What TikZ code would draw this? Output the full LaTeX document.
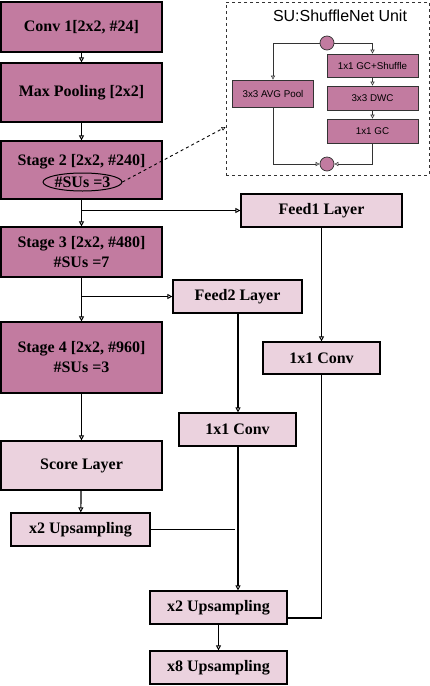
\documentclass[tikz,border=0pt]{standalone}
\usepackage{fontspec}
\setmainfont{Liberation Serif}
\newfontfamily\arialf{Liberation Sans}
\usetikzlibrary{arrows.meta,shapes.geometric,calc}
\definecolor{darkfill}{HTML}{C27BA0}
\definecolor{lightfill}{HTML}{EBD2DE}
\begin{document}
\begin{tikzpicture}[x=1pt,y=-1pt,
  base/.style={draw=black,line width=1.2pt,inner sep=0pt,font=\fontsize{16}{20}\selectfont\bfseries,align=center},
  darkbox/.style={base,fill=darkfill},
  lightbox/.style={base,fill=lightfill},
  subox/.style={draw=black!80,line width=0.7pt,fill=darkfill,inner sep=0pt,font=\arialf\fontsize{9.8}{11}\selectfont},
  sucirc/.style={circle,draw=black!80,line width=0.7pt,fill=darkfill,minimum size=14pt,inner sep=0pt},
  arr/.style={line width=1.2pt,-{Triangle[open,length=5pt,width=5pt,line width=0.9pt]}},
  ln/.style={line width=1.2pt},
  sarr/.style={line width=0.7pt,draw=black!80,-{Triangle[open,length=4pt,width=4pt,line width=0.6pt]}}
]
\useasboundingbox[fill=white] (0,0) rectangle (430,686);

% main column
\node[darkbox,minimum width=161pt,minimum height=50pt] (conv1) at (81.5,27) {Conv 1[2x2, \#24]};
\node[darkbox,minimum width=161pt,minimum height=59pt] (pool) at (81.5,92.5) {Max Pooling [2x2]};
\node[darkbox,minimum width=161pt,minimum height=58pt] (stage2) at (81.5,170) {};
\node[font=\fontsize{16}{20}\selectfont\bfseries,inner sep=0pt] (s2title) at (81.5,162) {Stage 2 [2x2, \#240]};
\node[ellipse,draw=black,line width=1pt,minimum width=76pt,minimum height=18pt,inner sep=0pt,font=\fontsize{16}{20}\selectfont\bfseries] (s2su) at (82.5,182) {\#SUs =3};
\node[darkbox,minimum width=161pt,minimum height=50pt] (stage3) at (81.5,252) {Stage 3 [2x2, \#480]\\\#SUs =7};
\node[darkbox,minimum width=161pt,minimum height=71pt] (stage4) at (81.5,357.5) {Stage 4 [2x2, \#960]\\\#SUs =3};
\node[lightbox,minimum width=161pt,minimum height=49pt] (score) at (81.5,465.5) {Score Layer};
\node[lightbox,minimum width=139pt,minimum height=33pt] (up2a) at (80.5,529.5) {x2 Upsampling};

% right branches
\node[lightbox,minimum width=161pt,minimum height=33pt] (feed1) at (321.5,210.5) {Feed1 Layer};
\node[lightbox,minimum width=129pt,minimum height=33pt] (feed2) at (237.5,296.5) {Feed2 Layer};
\node[lightbox,minimum width=117pt,minimum height=32pt] (convA) at (321.5,358) {1x1 Conv};
\node[lightbox,minimum width=117pt,minimum height=33pt] (convB) at (237.5,429.5) {1x1 Conv};
\node[lightbox,minimum width=137pt,minimum height=33pt] (up2b) at (218.5,607.5) {x2 Upsampling};
\node[lightbox,minimum width=137pt,minimum height=33pt] (up8) at (218.5,667.5) {x8 Upsampling};

\coordinate (b1) at (81.5,210.5);
\coordinate (b2) at (81.5,296.5);
\coordinate (j1) at (235,529.5);
\coordinate (j2) at (321.5,618);

\draw[arr] (conv1) -- (pool);
\draw[arr] (pool) -- (stage2);
\draw[arr] (stage2) -- (stage3);
\draw[arr] (b1) -- (feed1);
\draw[arr] (stage3) -- (stage4);
\draw[arr] (b2) -- (feed2);
\draw[arr] (feed1) -- (convA);
\draw[arr] ([xshift=0.5pt]feed2.south) -- ([xshift=0.5pt]convB.north);
\draw[arr] (stage4) -- (score);
\draw[arr] (score) -- (up2a);
\draw[ln] (up2a) -- (j1);
\draw[arr] ([xshift=0.5pt]convB.south) -- ([xshift=0.5pt]convB.south |- up2b.north);
\draw[ln] (convA) -- (j2) -- (j2 -| up2b.east);
\draw[arr] (up2b) -- (up8);

% ShuffleNet unit inset
\node[draw=black!80,dashed,line width=0.9pt,minimum width=203pt,minimum height=173pt,inner sep=0pt] (su) at (327.5,88.5) {};
\node[font=\arialf\fontsize{16}{19}\selectfont,inner sep=0pt] (sutitle) at (340,16) {SU:ShuffleNet Unit};
\node[sucirc] (c1) at (327,43) {};
\node[sucirc] (c2) at (327,164) {};
\node[subox,minimum width=91pt,minimum height=23pt] (gcs) at (372.5,65.5) {1x1 GC+Shuffle};
\node[subox,minimum width=91pt,minimum height=24pt] (dwc) at (372.5,98) {3x3 DWC};
\node[subox,minimum width=91pt,minimum height=24pt] (gc) at (372.5,131) {1x1 GC};
\node[subox,minimum width=81pt,minimum height=27pt] (avg) at (273,93.5) {3x3 AVG Pool};

\draw[sarr] (c1.west) -| (avg.north);
\draw[sarr] (c1.east) -| (gcs.north);
\draw[sarr] (gcs) -- (dwc);
\draw[sarr] (dwc) -- (gc);
\draw[sarr] (avg.south) |- (c2.west);
\draw[sarr] (gc.south) |- (c2.east);

% pointer from #SUs to inset
\draw[dashed,line width=0.9pt,-{Triangle[open,length=4pt,width=4pt,line width=0.6pt]}] (s2su.east) -- ([yshift=-38.5pt]su.west);
\end{tikzpicture}
\end{document}
